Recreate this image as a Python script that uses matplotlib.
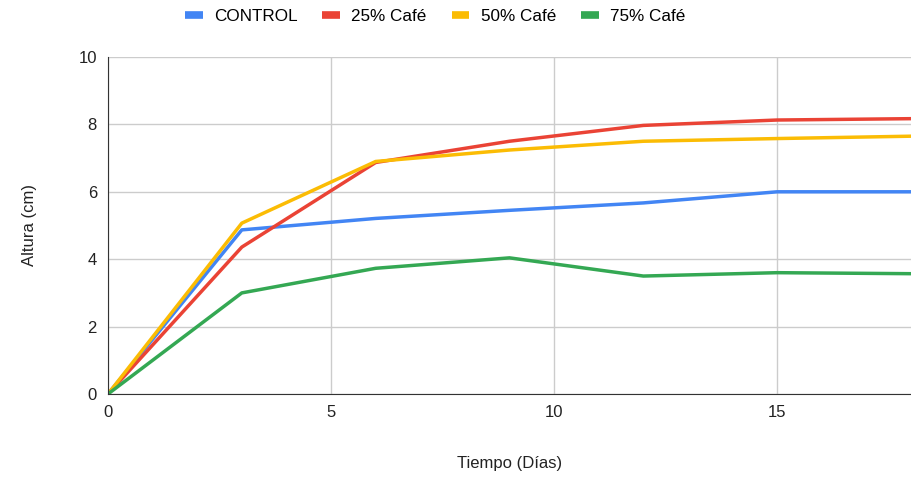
import matplotlib
matplotlib.use("Agg")
import matplotlib.pyplot as plt

plt.rcParams['font.family'] = ['Liberation Sans', 'DejaVu Sans']

dias = [0, 3, 6, 9, 12, 15, 18]
control = [0, 4.87, 5.21, 5.45, 5.67, 6.0, 6.0]
cafe25 = [0, 4.36, 6.87, 7.5, 7.97, 8.13, 8.17]
cafe50 = [0, 5.07, 6.9, 7.24, 7.5, 7.58, 7.65]
cafe75 = [0, 3.0, 3.73, 4.04, 3.5, 3.6, 3.57]

series = [("CONTROL", control, "#4285F4"),
          ("25% Café", cafe25, "#EA4335"),
          ("50% Café", cafe50, "#FBBC04"),
          ("75% Café", cafe75, "#34A853")]

fig = plt.figure(figsize=(9.12, 4.79), dpi=100)
ax = fig.add_axes([108/912, 85/479, 803/912, 337/479])

for nombre, vals, col in series:
    ax.plot(dias, vals, color=col, lw=2.5, label=nombre, solid_joinstyle='round')

ax.set_xlim(0, 18)
ax.set_ylim(0, 10)
ax.set_xticks([0, 5, 10, 15])
ax.set_yticks([0, 2, 4, 6, 8, 10])
ax.grid(True, color="#cccccc", lw=1)
ax.set_axisbelow(True)
for s in ["top", "right"]:
    ax.spines[s].set_visible(False)
ax.spines["left"].set_color("#333333")
ax.spines["bottom"].set_color("#333333")
ax.tick_params(length=0, labelsize=12, colors="#222222", pad=8)
ax.set_xlabel("Tiempo (Días)", fontsize=12, color="#222222", labelpad=26)
ax.set_ylabel("Altura (cm)", fontsize=12, color="#222222", labelpad=30)

leg = fig.legend(loc="upper center", bbox_to_anchor=(0.477, 1.013), ncol=4, frameon=False,
                 fontsize=12.3, handlelength=1.05, columnspacing=1.45, handletextpad=0.65)
for h in leg.get_lines():
    h.set_linewidth(5.5)
    h.set_solid_capstyle('butt')

fig.savefig("out.png", dpi=100)
